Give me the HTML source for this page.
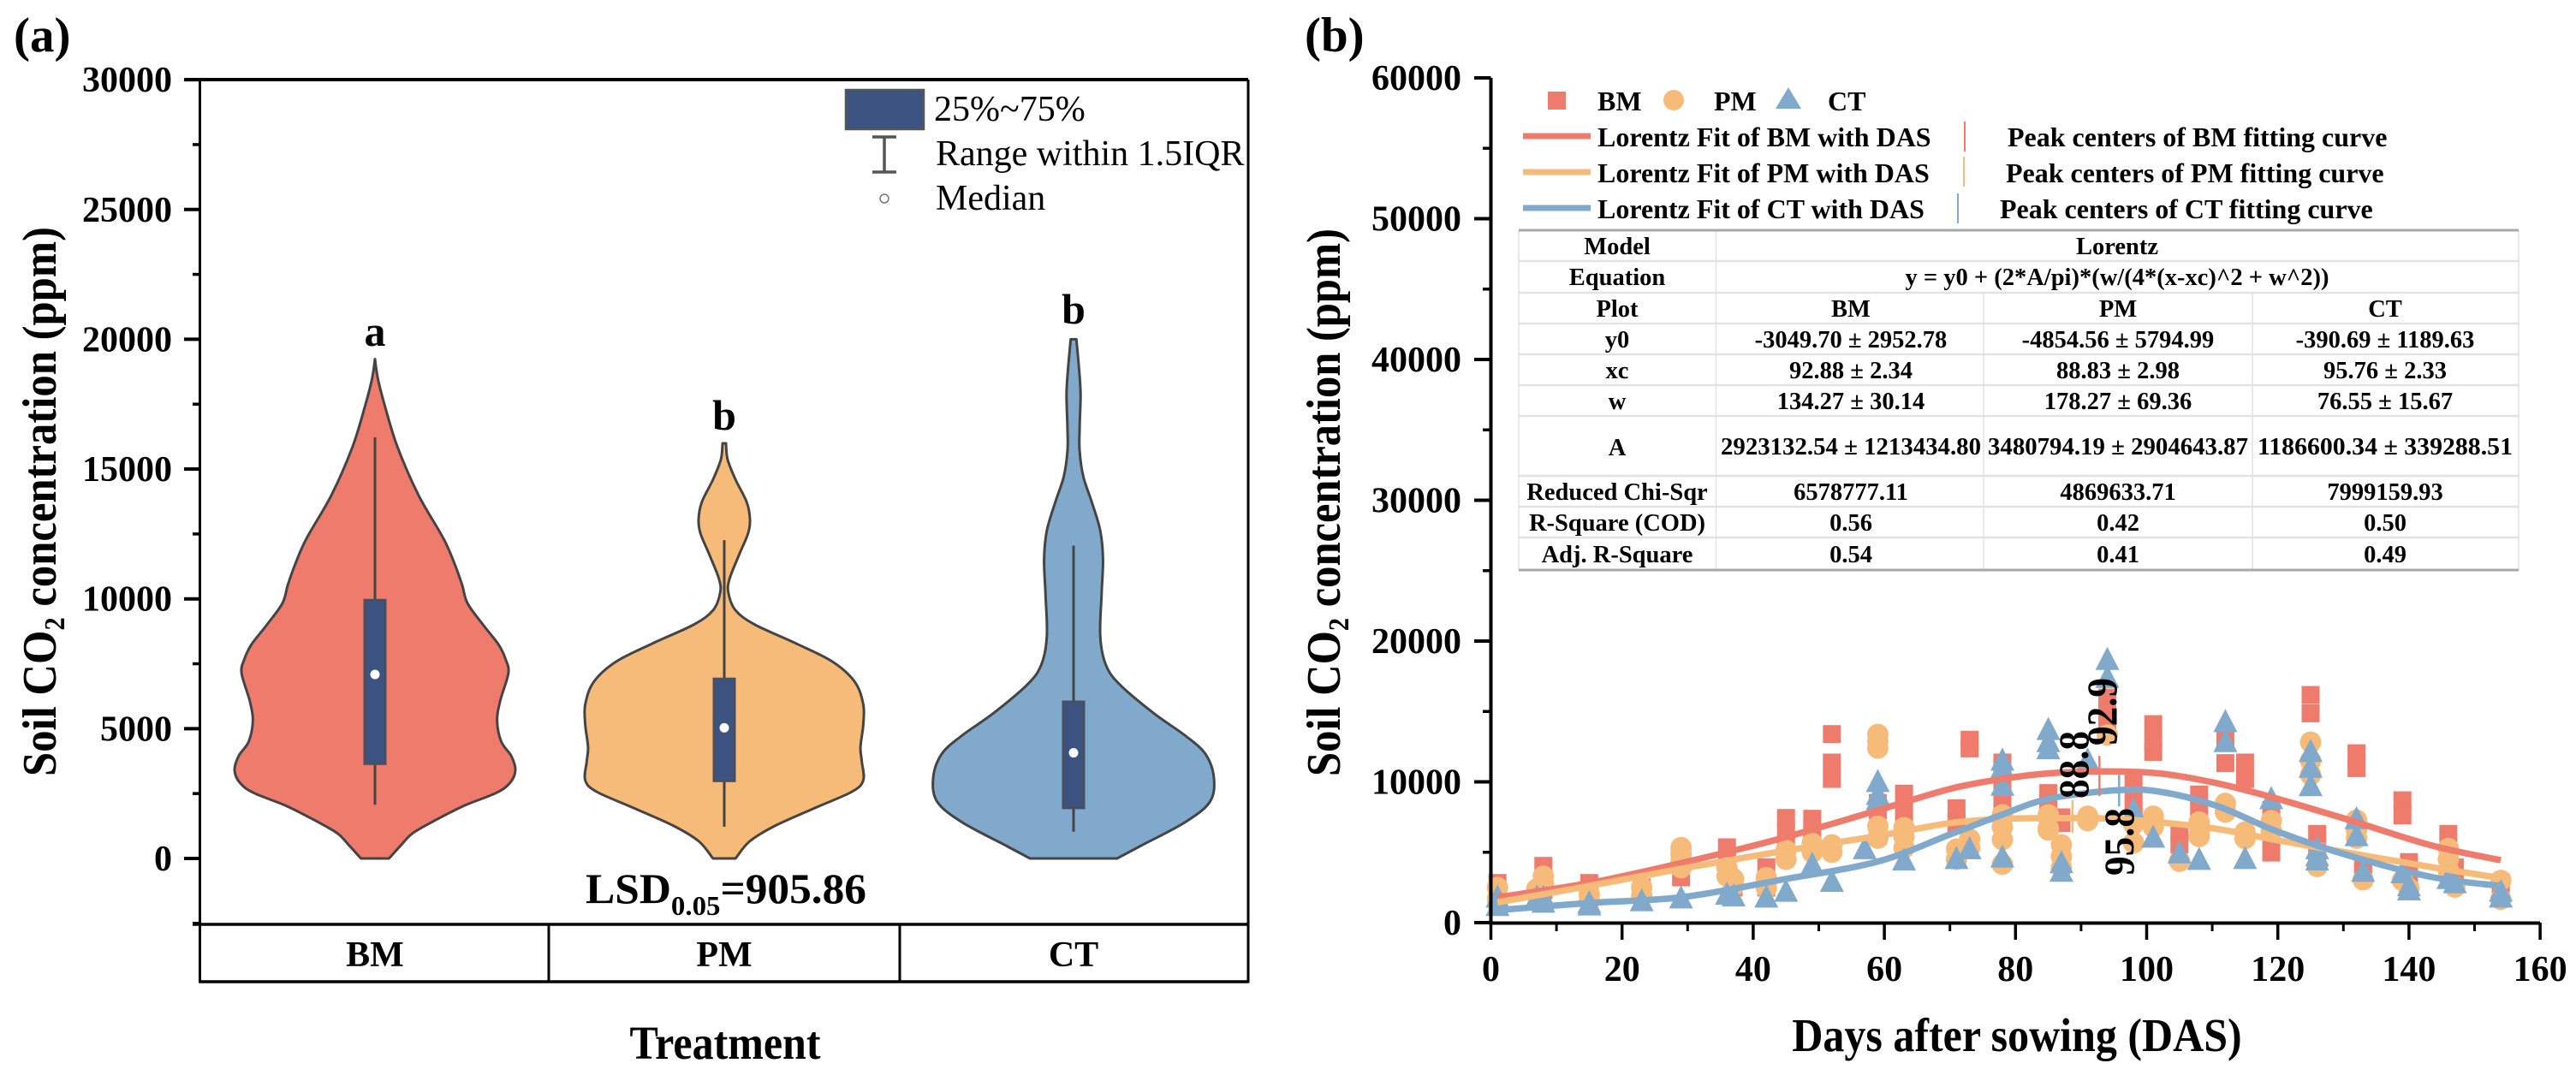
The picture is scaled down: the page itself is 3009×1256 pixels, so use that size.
<!DOCTYPE html>
<html lang="en">
<head>
<meta charset="utf-8">
<title>Soil CO2 concentration charts</title>
<style>
html,body{margin:0;padding:0;background:#fff;width:3009px;height:1256px;overflow:hidden}
svg{display:block}
text{font-family:"Liberation Serif",serif;fill:#000}
.b{font-weight:bold}
.tick{font-size:42px;font-weight:bold}
.title{font-size:50px;font-weight:bold}
.leg-a{font-size:42px}
.leg-b{font-size:32px;font-weight:bold}
.tb{font-size:28.5px;font-weight:bold;text-anchor:middle}
</style>
</head>
<body>
<svg id="root" xmlns="http://www.w3.org/2000/svg" width="3009" height="1256" viewBox="0 0 3009 1256">
  <rect x="0" y="0" width="3009" height="1256" fill="#fff"/>
  <text class="b" x="16" y="60" font-size="57">(a)</text>
  <text class="b" x="1524" y="60" font-size="57">(b)</text>

  <g id="panelA"></g>
  <g id="panelB"></g>

  <!-- panel a static text -->
  <text class="title" transform="translate(65,907) rotate(-90) scale(1,1.12)" textLength="642" lengthAdjust="spacingAndGlyphs">Soil CO<tspan font-size="30" dy="9">2</tspan><tspan dy="-9"> concentration (ppm)</tspan></text>
  <text class="title" transform="translate(847,1237) scale(1,1.1)" x="0" y="0" text-anchor="middle">Treatment</text>
  <text class="b" x="684" y="1055" font-size="50" textLength="328" lengthAdjust="spacingAndGlyphs">LSD<tspan font-size="32" dy="14">0.05</tspan><tspan dy="-14">=905.86</tspan></text>
  <text class="b" x="438" y="404" font-size="50" text-anchor="middle">a</text>
  <text class="b" x="846" y="502" font-size="50" text-anchor="middle">b</text>
  <text class="b" x="1254" y="378" font-size="50" text-anchor="middle">b</text>

  <g>
    <rect x="988" y="105" width="91" height="46" fill="#3c5381" stroke="#555" stroke-width="2.5"/>
    <text class="leg-a" x="1091" y="141">25%~75%</text>
    <path d="M1019 160H1047M1033 160V201M1019 201H1047" stroke="#555" stroke-width="3.5" fill="none"/>
    <text class="leg-a" x="1093" y="193">Range within 1.5IQR</text>
    <circle cx="1033" cy="232" r="5" fill="#fff" stroke="#777" stroke-width="1.5"/>
    <text class="leg-a" x="1093" y="245">Median</text>
  </g>

  <!-- panel b static text -->
  <text class="title" transform="translate(1565,907) rotate(-90) scale(1,1.12)" textLength="640" lengthAdjust="spacingAndGlyphs">Soil CO<tspan font-size="30" dy="9">2</tspan><tspan dy="-9"> concentration (ppm)</tspan></text>
  <text class="title" transform="translate(2356,1228) scale(1,1.1)" x="0" y="0" text-anchor="middle">Days after sowing (DAS)</text>

  <g>
    <rect x="1808" y="107" width="21" height="21" fill="#ef7b6c"/>
    <text class="leg-b" x="1866" y="129">BM</text>
    <ellipse cx="1955" cy="117" rx="12" ry="12" fill="#f7bb79"/>
    <text class="leg-b" x="2002" y="129">PM</text>
    <polygon points="2089,102 2104,127 2074,127" fill="#80a9cb"/>
    <text class="leg-b" x="2135" y="129">CT</text>

    <line x1="1779" x2="1858" y1="159" y2="159" stroke="#ef7b6c" stroke-width="7"/>
    <text class="leg-b" x="1866" y="171">Lorentz Fit of BM with DAS</text>
    <line x1="2295" x2="2295" y1="142" y2="177" stroke="#ef7b6c" stroke-width="2"/>
    <text class="leg-b" x="2345" y="171">Peak centers of BM fitting curve</text>

    <line x1="1779" x2="1858" y1="201" y2="201" stroke="#f7bb79" stroke-width="7"/>
    <text class="leg-b" x="1866" y="213">Lorentz Fit of PM with DAS</text>
    <line x1="2294" x2="2294" y1="183" y2="218" stroke="#f7bb79" stroke-width="2"/>
    <text class="leg-b" x="2343" y="213">Peak centers of PM fitting curve</text>

    <line x1="1779" x2="1858" y1="243" y2="243" stroke="#80a9cb" stroke-width="7"/>
    <text class="leg-b" x="1866" y="255">Lorentz Fit of CT with DAS</text>
    <line x1="2287" x2="2287" y1="226" y2="261" stroke="#80a9cb" stroke-width="2"/>
    <text class="leg-b" x="2336" y="255">Peak centers of CT fitting curve</text>
  </g>

  <g>
    <rect x="1774" y="269" width="1168" height="397" fill="#fff"/>
    <g stroke="#e2e2e2" stroke-width="2.5">
      <path d="M1774 305H2942M1774 342H2942M1774 378H2942M1774 414H2942M1774 450H2942M1774 486H2942M1774 556H2942M1774 592H2942M1774 628H2942"/>
      <path d="M1774 269V666M2004.5 269V666M2317 342V666M2631 342V666M2942 269V666" stroke-width="1.5"/>
    </g>
    <path d="M1774 269H2942M1774 666H2942" stroke="#a8a8a8" stroke-width="3"/>
    <text class="tb" x="1889" y="297">Model</text>
    <text class="tb" x="2473" y="297">Lorentz</text>
    <text class="tb" x="1889" y="333">Equation</text>
    <text class="tb" x="2473" y="333">y = y0 + (2*A/pi)*(w/(4*(x-xc)^2 + w^2))</text>
    <text class="tb" x="1889" y="370">Plot</text>
    <text class="tb" x="2162" y="370">BM</text>
    <text class="tb" x="2474" y="370">PM</text>
    <text class="tb" x="2786" y="370">CT</text>
    <text class="tb" x="1889" y="406">y0</text>
    <text class="tb" x="2162" y="406">-3049.70 ± 2952.78</text>
    <text class="tb" x="2474" y="406">-4854.56 ± 5794.99</text>
    <text class="tb" x="2786" y="406">-390.69 ± 1189.63</text>
    <text class="tb" x="1889" y="442">xc</text>
    <text class="tb" x="2162" y="442">92.88 ± 2.34</text>
    <text class="tb" x="2474" y="442">88.83 ± 2.98</text>
    <text class="tb" x="2786" y="442">95.76 ± 2.33</text>
    <text class="tb" x="1889" y="478">w</text>
    <text class="tb" x="2162" y="478">134.27 ± 30.14</text>
    <text class="tb" x="2474" y="478">178.27 ± 69.36</text>
    <text class="tb" x="2786" y="478">76.55 ± 15.67</text>
    <text class="tb" x="1889" y="532">A</text>
    <text class="tb" x="2162" y="531" textLength="304" lengthAdjust="spacingAndGlyphs">2923132.54 ± 1213434.80</text>
    <text class="tb" x="2474" y="531" textLength="304" lengthAdjust="spacingAndGlyphs">3480794.19 ± 2904643.87</text>
    <text class="tb" x="2786" y="531" textLength="298" lengthAdjust="spacingAndGlyphs">1186600.34 ± 339288.51</text>
    <text class="tb" x="1889" y="584">Reduced Chi-Sqr</text>
    <text class="tb" x="2162" y="584">6578777.11</text>
    <text class="tb" x="2474" y="584">4869633.71</text>
    <text class="tb" x="2786" y="584">7999159.93</text>
    <text class="tb" x="1889" y="620">R-Square (COD)</text>
    <text class="tb" x="2162" y="620">0.56</text>
    <text class="tb" x="2474" y="620">0.42</text>
    <text class="tb" x="2786" y="620">0.50</text>
    <text class="tb" x="1889" y="657">Adj. R-Square</text>
    <text class="tb" x="2162" y="657">0.54</text>
    <text class="tb" x="2474" y="657">0.41</text>
    <text class="tb" x="2786" y="657">0.49</text>
  </g>
</svg>

<script>
// ---------- Panel (a) data ----------
const categories = ['BM', 'PM', 'CT'];
const violinTicksMajor = [0, 5000, 10000, 15000, 20000, 25000, 30000];
const violinTicksMinor = [-2500, 2500, 7500, 12500, 17500, 22500, 27500];
const bmViolinValues = [0,538,978,1473,2022,2517,2901,3396,3956,4495,5275,6034,7133,7682,8243,9000,9825,10550,11310,12300,14000,15860,17440,18500,19240];
const bmViolinDensity = [10,19,27,43,63,86,96,100,97,90,87,89,95,93,88,77,66,62,57,49,31,16,7,2,0];
const pmViolinValues = [0,655,1253,1978,2572,3010,3726,4286,5154,5935,6802,7583,8286,9001,9561,10220,10760,11750,12530,13070,13730,14600,15370,15990];
const pmViolinDensity = [8,18,36,66,91,99,98,97,99,99,93,77,51,22,8,3,3.7,11,17,18.3,16,8,2.4,1.2];
const ctViolinValues = [0,461,1383,2174,3096,4018,4715,5600,6695,7460,8560,10210,11530,12630,13730,14700,15700,16580,17900,19000,20000];
const ctViolinDensity = [31,47,79,97,100,94,80,57,33,23,19,20,21,19,13,7,4.3,4.3,5,3.7,2];
const boxQ1 = [3650, 2990, 1950];
const boxQ3 = [9950, 6917, 6034];
const boxMedian = [7090, 5033, 4070];
const whiskerLow = [2070, 1225, 1030];
const whiskerHigh = [16220, 12260, 12050];

// ---------- Panel (b) data ----------
const dasTicksMajor = [0, 20, 40, 60, 80, 100, 120, 140, 160];
const dasTicksMinor = [10, 30, 50, 70, 90, 110, 130, 150];
const co2TicksMajor = [0, 10000, 20000, 30000, 40000, 50000, 60000];
const co2TicksMinor = [5000, 15000, 25000, 35000, 45000, 55000];

const bmDays = [1,1,1,8,8,8,15,15,15,23,29,29,36,36,36,37,42,42,42,45,45,45,45,49,49,49,52,52,52,59,59,59,63,63,63,63,71,71,71,73,73,78,78,78,78,78,85,85,85,87,87,94,94,94,98,98,98,98,101,101,101,105,105,108,108,108,112,112,115,115,119,119,119,125,125,126,126,132,132,133,133,139,139,140,140,146,146,147,147,154,154];
const bmValues = [2816,1900,1500,4030,3000,2300,2816,2200,1800,2500,3220,4500,5350,4500,3800,2500,3930,3000,2500,7435,6500,5500,4800,7375,6500,5700,13390,11370,10210,7980,8500,6160,9160,8000,7000,6500,8120,7000,7170,12990,12380,11370,10500,9500,8500,7900,9200,8500,7500,7476,7070,15985,14870,14060,10000,9000,8000,7577,14100,12840,12130,6360,5550,9100,8000,7000,13050,11330,11370,10200,6160,4980,8000,16170,14870,6300,5000,12030,10980,4000,3500,8690,7620,4300,3500,6300,4740,3930,3200,2860,2300];

const pmDays = [1,1,7,8,8,15,15,23,23,29,29,29,29,36,36,37,37,42,42,45,45,49,49,52,52,59,59,59,59,59,63,63,63,71,71,73,73,78,78,78,78,85,85,85,87,87,87,91,91,94,98,98,101,101,105,108,108,108,112,112,115,115,119,119,125,125,125,126,132,132,132,133,139,140,146,146,146,147,154,154];
const pmValues = [2490,1700,2390,3300,2800,1500,2000,2500,1900,5330,4900,4400,3900,3900,3300,3100,2600,3200,2500,5130,4500,5630,5000,5530,5000,13370,12900,12400,6850,6000,6750,6100,5300,5230,4500,5940,5300,7660,6800,5900,4150,7660,6700,6580,5530,4700,3900,7560,7250,13330,5670,7000,7560,6800,4360,7150,6300,6120,8470,7860,6440,5980,7250,6500,12820,11500,10500,3990,7290,6000,6580,3040,3000,2430,5270,4500,3700,2530,1660,3000];

const ctDays = [1,1,7,8,8,15,15,23,29,36,37,42,45,49,52,57,59,59,59,63,71,73,78,78,78,78,85,85,85,87,87,91,94,94,98,101,105,108,112,112,115,119,125,125,125,126,126,126,132,132,133,139,140,140,146,147,154,154];
const ctValues = [1860,1260,1860,1860,1500,1460,1300,1600,1800,2070,1945,1860,2270,4190,2980,5300,10070,9160,8800,4500,4600,5300,11590,11080,9800,4700,13760,12900,12400,4300,3690,11600,18740,17460,8040,6120,5000,4540,14320,12900,4600,8850,12200,11080,9770,5300,4800,4500,7430,6220,3690,3590,2670,2370,3180,2880,2270,1860];

const bmFitDays = [1,15,29,44,59,70,78,85,93.6,102,110.7,120,131,143.7,154];
const bmFitValues = [1800,2816,4230,5950,7980,9500,10210,10600,10750,10600,9900,8790,7270,5450,4440];
const pmFitDays = [1,15,29,44,59,70,78,85,94,101,110.7,120,131,143.7,154];
const pmFitValues = [1440,2610,3830,5040,6160,7070,7370,7415,7400,7170,6660,5850,4940,3930,3160];
const ctFitDays = [1,15,29,44,59,70,78,85,95.3,102,110.7,120,131,143.7,154];
const ctFitValues = [890,1400,1800,3020,4340,6260,7680,8790,9400,9300,8290,6460,4740,3220,2610];

const peakLabels = ['92.9', '88.8', '95.8'];
const peakCenters = [92.8, 88.7, 95.8];
const peakLow = [9000, 6380, 8260];
const peakHigh = [11850, 8700, 10500];

// ---------- Shared helpers ----------
const NS = 'http://www.w3.org/2000/svg';
const COLORS = ['#ef7b6c', '#f7bb79', '#80a9cb'];
const panelA = document.getElementById('panelA');
const panelB = document.getElementById('panelB');

function mk(parent, tag, attrs, txt) {
  const n = document.createElementNS(NS, tag);
  for (const k in attrs) n.setAttribute(k, attrs[k]);
  if (txt !== undefined) n.textContent = txt;
  parent.appendChild(n);
  return n;
}
function smooth(pts) {
  let d = 'M' + pts[0][0].toFixed(1) + ' ' + pts[0][1].toFixed(1);
  for (let i = 0; i < pts.length - 1; i++) {
    const p0 = pts[Math.max(i - 1, 0)], p1 = pts[i], p2 = pts[i + 1], p3 = pts[Math.min(i + 2, pts.length - 1)];
    const c1x = p1[0] + (p2[0] - p0[0]) / 6, c1y = p1[1] + (p2[1] - p0[1]) / 6;
    const c2x = p2[0] - (p3[0] - p1[0]) / 6, c2y = p2[1] - (p3[1] - p1[1]) / 6;
    d += 'C' + c1x.toFixed(1) + ' ' + c1y.toFixed(1) + ' ' + c2x.toFixed(1) + ' ' + c2y.toFixed(1) + ' ' + p2[0].toFixed(1) + ' ' + p2[1].toFixed(1);
  }
  return d;
}

// ---------- Panel (a) axes ----------
const yA = v => 1003 - v * 0.03033;
const catX = i => 438 + i * 408;
const densityW = d => d * 1.64;

// ticks
violinTicksMajor.forEach(v => {
  const t = mk(panelA, 'line', {x1: 215, x2: 234, y1: yA(v), y2: yA(v), stroke: '#000', 'stroke-width': 4});
  
  
  const l = mk(panelA, 'text', {class: 'tick', x: 201, y: yA(v) + 14, 'text-anchor': 'end'}, String(v));
  
  
});
violinTicksMinor.forEach(v => {
  const t = mk(panelA, 'line', {x1: 225, x2: 234, y1: yA(v), y2: yA(v), stroke: '#000', 'stroke-width': 3.5});
  
  
});

// violins
[[bmViolinValues, bmViolinDensity], [pmViolinValues, pmViolinDensity], [ctViolinValues, ctViolinDensity]].forEach((pair, i) => {
  const right = pair[0].map((v, k) => [catX(i) + densityW(pair[1][k]), yA(v)]);
  const left = pair[0].map((v, k) => [catX(i) - densityW(pair[1][k]), yA(v)]).reverse();
  const d = smooth(right) + 'L' + smooth(left).slice(1) + 'Z';
  const v = mk(panelA, 'path', {d: d, fill: COLORS[i], stroke: '#444', 'stroke-width': 3, 'stroke-linejoin': 'round'});
  
  
});

// boxes
categories.forEach((c, i) => {
  const w = mk(panelA, 'line', {x1: catX(i), x2: catX(i), y1: yA(whiskerHigh[i]), y2: yA(whiskerLow[i]), stroke: '#444', 'stroke-width': 3});
  
  
  const b = mk(panelA, 'rect', {x: catX(i) - 12, y: yA(boxQ3[i]), width: 24, height: yA(boxQ1[i]) - yA(boxQ3[i]), fill: '#3c5381', stroke: '#484f60', 'stroke-width': 3});
  
  
  const m = mk(panelA, 'circle', {cx: catX(i), cy: yA(boxMedian[i]), r: 5.5, fill: '#fff'});
  
  
  const l = mk(panelA, 'text', {class: 'tick', x: catX(i), y: 1129, 'text-anchor': 'middle'}, c);
  
  
});

// frame of panel a
const frameA = mk(panelA, 'path', {d: 'M233.5 93V1147H1458V93M641 1080V1147M1051 1080V1147', fill: 'none', stroke: '#000', 'stroke-width': 3});


const topA = mk(panelA, 'line', {x1: 216, x2: 1458, y1: 93, y2: 93, stroke: '#000', 'stroke-width': 4});


const catRule = mk(panelA, 'line', {x1: 225, x2: 1458, y1: 1080, y2: 1080, stroke: '#000', 'stroke-width': 3.5});


const botA = mk(panelA, 'line', {x1: 233, x2: 1458, y1: 1147, y2: 1147, stroke: '#000', 'stroke-width': 3.5});



// ---------- Panel (b) axes ----------
const xB = d => 1741.5 + d * 7.66;
const yB = v => 1078 - v * 0.01645;

// markers
bmDays.forEach((d, i) => {
  const s = mk(panelB, 'rect', {x: xB(d) - 10.5, y: yB(bmValues[i]) - 10.5, width: 21, height: 21, fill: COLORS[0]});
  
  
});
pmDays.forEach((d, i) => {
  const s = mk(panelB, 'circle', {cx: xB(d), cy: yB(pmValues[i]), r: 12.5, fill: COLORS[1]});
  
  
});
ctDays.forEach((d, i) => {
  const cx = xB(d), cy = yB(ctValues[i]);
  const s = mk(panelB, 'polygon', {points: cx + ',' + (cy - 14) + ' ' + (cx + 14) + ',' + (cy + 13) + ' ' + (cx - 14) + ',' + (cy + 13), fill: COLORS[2]});
  
  
});

// fit curves
const fitBm = mk(panelB, 'path', {d: smooth(bmFitDays.map((d, i) => [xB(d), yB(bmFitValues[i])])), fill: 'none', stroke: COLORS[0], 'stroke-width': 7.5});


const fitPm = mk(panelB, 'path', {d: smooth(pmFitDays.map((d, i) => [xB(d), yB(pmFitValues[i])])), fill: 'none', stroke: COLORS[1], 'stroke-width': 7.5});


const fitCt = mk(panelB, 'path', {d: smooth(ctFitDays.map((d, i) => [xB(d), yB(ctFitValues[i])])), fill: 'none', stroke: COLORS[2], 'stroke-width': 7.5});



// peak lines and labels
peakCenters.forEach((d, i) => {
  const l = mk(panelB, 'line', {x1: xB(d), x2: xB(d), y1: yB(peakHigh[i]), y2: yB(peakLow[i]), stroke: COLORS[i], 'stroke-width': 2.5});
  
  
});
const peakPos = [[2472, 871], [2439, 933], [2492, 1023]];
peakLabels.forEach((t, i) => {
  const l = mk(panelB, 'text', {class: 'b', 'font-size': 50, transform: 'translate(' + peakPos[i][0] + ',' + peakPos[i][1] + ') rotate(-90)', textLength: 79, lengthAdjust: 'spacingAndGlyphs'}, t);
  
  
});

// axes
const axisB = mk(panelB, 'path', {d: 'M1741.5 91V1078.5H' + xB(160), fill: 'none', stroke: '#000', 'stroke-width': 4});


co2TicksMajor.forEach(v => {
  const t = mk(panelB, 'line', {x1: 1722, x2: 1741.5, y1: yB(v), y2: yB(v), stroke: '#000', 'stroke-width': 4});
  
  
  const l = mk(panelB, 'text', {class: 'tick', x: 1707, y: yB(v) + 14, 'text-anchor': 'end'}, String(v));
  
  
});
co2TicksMinor.forEach(v => {
  const t = mk(panelB, 'line', {x1: 1732, x2: 1741.5, y1: yB(v), y2: yB(v), stroke: '#000', 'stroke-width': 3.5});
  
  
});
dasTicksMajor.forEach(d => {
  const t = mk(panelB, 'line', {x1: xB(d), x2: xB(d), y1: 1078, y2: 1098, stroke: '#000', 'stroke-width': 3.5});
  
  
  const l = mk(panelB, 'text', {class: 'tick', x: xB(d), y: 1146, 'text-anchor': 'middle'}, String(d));
  
  
});
dasTicksMinor.forEach(d => {
  const t = mk(panelB, 'line', {x1: xB(d), x2: xB(d), y1: 1078, y2: 1088, stroke: '#000', 'stroke-width': 3});
  
  
});
</script>
</body>
</html>
